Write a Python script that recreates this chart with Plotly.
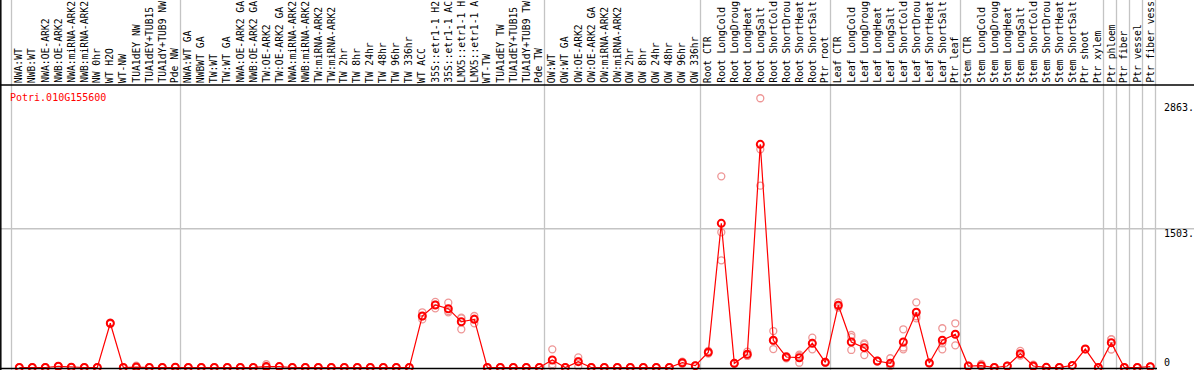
import plotly.graph_objects as go

gene_id = "Potri.010G155600"

labels = [
    "NWA:WT", "NWB:WT", "NWA:OE-ARK2", "NWB:OE-ARK2", "NWA:miRNA-ARK2", "NWB:miRNA-ARK2",
    "NW 0hr", "WT H2O", "WT-NW", "TUA1dEY NW", "TUA1dEY+TUB15", "TUA1dY+TUB9 NW", "Pde NW",
    "NWA:WT GA", "NWBWT GA", "TW:WT", "TW:WT GA", "NWA:OE-ARK2 GA", "NWB:OE-ARK2 GA",
    "TW:OE-ARK2", "TW:OE-ARK2 GA", "NWA:miRNA-ARK2", "NWB:miRNA-ARK2", "TW:miRNA-ARK2",
    "TW:miRNA-ARK2", "TW 2hr", "TW 8hr", "TW 24hr", "TW 48hr", "TW 96hr", "TW 336hr",
    "WT ACC", "35S::etr1-1 H2", "35S::etr1-1 AC", "LMX5::etr1-1 H", "LMX5::etr1-1 A",
    "WT-TW", "TUA1dEY TW", "TUA1dEY+TUB15", "TUA1dY+TUB9 TW", "Pde TW",
    "OW:WT", "OW:WT GA", "OW:OE-ARK2", "OW:OE-ARK2 GA", "OW:miRNA-ARK2", "OW:miRNA-ARK2",
    "OW 2hr", "OW 8hr", "OW 24hr", "OW 48hr", "OW 96hr", "OW 336hr",
    "Root CTR", "Root LongCold", "Root LongDroug", "Root LongHeat", "Root LongSalt",
    "Root ShortCold", "Root ShortDrou", "Root ShortHeat", "Root ShortSalt", "Ptr root",
    "Leaf CTR", "Leaf LongCold", "Leaf LongDroug", "Leaf LongHeat", "Leaf LongSalt",
    "Leaf ShortCold", "Leaf ShortDrou", "Leaf ShortHeat", "Leaf ShortSalt", "Ptr leaf",
    "Stem CTR", "Stem LongCold", "Stem LongDroug", "Stem LongHeat", "Stem LongSalt",
    "Stem ShortCold", "Stem ShortDrou", "Stem ShortHeat", "Stem ShortSalt", "Ptr shoot",
    "Ptr xylem", "Ptr phloem", "Ptr fiber", "Ptr vessel", "Ptr fiber vess",
]

mean_values = [
    0, 0, 0, 13, 3, 0, 0, 479, 0, 5, 0, 0, 3,
    0, 0, 0, 0, 0, 0, 10, 10, 0, 0, 0, 0, 0, 0, 0, 0, 0, 0,
    558, 677, 637, 496, 522, 0, 0, 0, 0, 0,
    81, 0, 63, 0, 0, 0, 0, 0, 0, 0, 52, 20,
    165, 1562, 45, 143, 2418, 295, 114, 106, 262, 56,
    674, 276, 215, 70, 45, 276, 598, 49, 295, 360,
    16, 20, 0, 16, 150, 16, 2, 0, 23, 200, 0,
    269, 0, 0, 9,
]

rep1 = [
    0, 0, 0, 13, 3, 0, 0, 470, 0, 20, 0, 0, 3,
    0, 0, 0, 0, 0, 0, 35, 10, 0, 0, 0, 0, 0, 0, 0, 0, 0, 0,
    598, 710, 702, 533, 558, 0, 0, 0, 0, 0,
    197, 0, 110, 0, 0, 0, 0, 0, 0, 0, 52, 20,
    165, 2071, 45, 171, 2917, 395, 120, 52, 323, 56,
    706, 352, 262, 70, 100, 414, 706, 49, 425, 479,
    16, 40, 0, 16, 180, 30, 2, 0, 23, 200, 0,
    305, 0, 0, 9,
]

rep2 = [
    0, 0, 0, 13, 3, 0, 0, 485, 0, 0, 0, 0, 3,
    0, 0, 0, 0, 0, 0, 0, 10, 0, 0, 0, 0, 0, 0, 0, 0, 0, 0,
    555, 641, 598, 414, 479, 0, 0, 0, 0, 0,
    10, 0, 70, 0, 0, 0, 0, 0, 0, 0, 40, 20,
    150, 1465, 40, 125, 2364, 200, 100, 140, 197, 50,
    650, 190, 135, 65, 20, 197, 533, 45, 197, 240,
    16, 10, 0, 16, 140, 10, 2, 0, 23, 200, 0,
    195, 0, 0, 9,
]

rep3 = [
    0, 0, 0, 13, 3, 0, 0, 482, 0, 0, 0, 0, 3,
    0, 0, 0, 0, 0, 0, 0, 10, 0, 0, 0, 0, 0, 0, 0, 0, 0, 0,
    521, 680, 611, 540, 530, 0, 0, 0, 0, 0,
    36, 0, 10, 0, 0, 0, 0, 0, 0, 0, 64, 20,
    180, 1161, 50, 133, 1970, 290, 122, 126, 266, 62,
    666, 330, 248, 75, 15, 217, 555, 53, 263, 361,
    16, 10, 0, 16, 130, 8, 2, 0, 23, 200, 0,
    307, 0, 0, 9,
]

group_starts = [0, 13, 41, 53, 63, 73, 84, 85, 86, 87, 88]
y_tick_values = [2863, 1503, 0]
y_tick_labels = ["2863.", "1503.", "0"]

W, H = 1194, 370
PX_PER_COL = 13.0
X0_PX = 19.3
ZERO_PX = 367.5
PX_PER_UNIT = 0.0923

x_range = [-X0_PX / PX_PER_COL, (W - X0_PX) / PX_PER_COL]
y_range = [-(H - ZERO_PX) / PX_PER_UNIT, ZERO_PX / PX_PER_UNIT]

def py(p):  # pixel y -> paper y
    return 1 - p / H

def px(p):
    return p / W

xs = list(range(len(labels)))
FONT = "DejaVu Sans Mono"

fig = go.Figure()

for reps in (rep1, rep2, rep3):
    fig.add_trace(go.Scatter(
        x=xs, y=reps, mode="markers",
        marker=dict(symbol="circle-open", size=7, color="rgb(238,150,150)",
                    line=dict(width=1.3, color="rgb(238,150,150)")),
        hoverinfo="skip", showlegend=False,
    ))

fig.add_trace(go.Scatter(
    x=xs, y=mean_values, mode="lines+markers",
    line=dict(color="#ff0000", width=1.2),
    marker=dict(symbol="circle-open", size=7, color="#ff0000",
                line=dict(width=2, color="#ff0000")),
    showlegend=False,
))

shapes = []
for b in group_starts:
    xv = b - 0.5 - 0.1
    shapes.append(dict(type="line", xref="x", yref="paper", x0=xv, x1=xv, y0=0, y1=1,
                       line=dict(color="#c4c4c4", width=1.3), layer="below"))
shapes.append(dict(type="line", xref="paper", yref="y", x0=0, x1=1, y0=1503, y1=1503,
                   line=dict(color="#c4c4c4", width=1.3), layer="below"))
shapes.append(dict(type="line", xref="paper", yref="paper", x0=0, x1=1, y0=py(85), y1=py(85),
                   line=dict(color="black", width=1.5)))
shapes.append(dict(type="line", xref="paper", yref="paper", x0=px(0.8), x1=px(0.8), y0=0, y1=1,
                   line=dict(color="black", width=1.5)))
shapes.append(dict(type="line", xref="paper", yref="paper", x0=0, x1=px(1157), y0=py(368.5), y1=py(368.5),
                   line=dict(color="black", width=1.5)))

annotations = []
for i, lab in enumerate(labels):
    annotations.append(dict(
        x=i - 0.05, xref="x", y=py(84), yref="paper", text=lab, textangle=-90,
        showarrow=False, xanchor="center", yanchor="bottom",
        font=dict(family=FONT, size=9.7, color="black"), borderpad=0,
    ))

annotations.append(dict(
    x=px(9), xref="paper", y=py(97), yref="paper", text=gene_id, showarrow=False,
    xanchor="left", yanchor="middle", font=dict(family=FONT, size=10, color="#ff0000"),
    borderpad=0,
))

for v, t in zip(y_tick_values, y_tick_labels):
    ypix = ZERO_PX - v * PX_PER_UNIT + 4.5
    if v == 0:
        ypix = 362.3
    annotations.append(dict(
        x=px(1163), xref="paper", y=py(ypix), yref="paper", text=t, showarrow=False,
        xanchor="left", yanchor="middle", font=dict(family=FONT, size=10, color="black"),
        borderpad=0,
    ))

fig.update_layout(
    width=W, height=H,
    margin=dict(l=0, r=0, t=0, b=0),
    paper_bgcolor="white", plot_bgcolor="white",
    xaxis=dict(range=x_range, showgrid=False, zeroline=False, showticklabels=False,
               showline=False, fixedrange=True),
    yaxis=dict(range=y_range, showgrid=False, zeroline=False, showticklabels=False,
               showline=False, fixedrange=True),
    shapes=shapes, annotations=annotations,
    showlegend=False,
)

fig.write_html(
    "out.html",
    config={"displayModeBar": False},
    post_script="document.body.style.margin='0';document.body.style.padding='0';document.body.style.overflow='hidden';",
)
